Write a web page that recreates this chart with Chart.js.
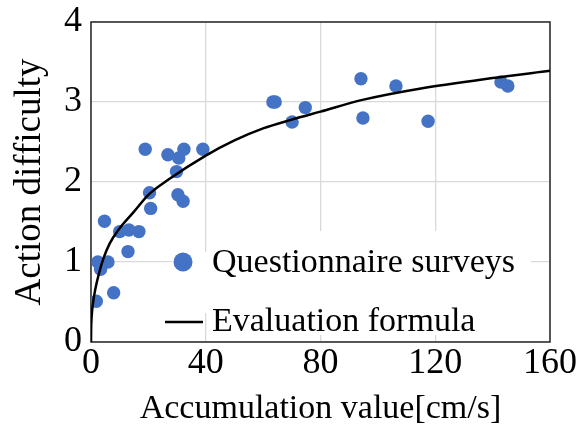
<!DOCTYPE html>
<html>
<head>
<meta charset="utf-8">
<script src="https://cdn.jsdelivr.net/npm/chart.js@4/dist/chart.umd.min.js"></script>
<style>
html,body{margin:0;padding:0;background:#fff;}
#wrap{width:576px;height:426px;position:relative;}
</style>
</head>
<body>
<div id="wrap"><canvas id="c" width="576" height="426"></canvas></div>
<script>
// Questionnaire survey results
const surveyX = [1.85, 7.9, 2.4, 5.9, 3.35, 4.7, 10.0, 13.2, 16.7, 12.9, 20.4, 20.8, 18.9, 26.8, 30.6, 32.4, 39.0, 29.8, 30.3, 32.1, 63.4, 64.2, 70.1, 74.7, 94.1, 94.8, 106.3, 117.5, 142.9, 145.3];
const surveyY = [0.51, 0.615, 1.0, 1.0, 0.91, 1.51, 1.38, 1.40, 1.38, 1.13, 1.865, 1.67, 2.41, 2.34, 2.30, 2.41, 2.41, 2.13, 1.84, 1.76, 3.0, 3.0, 2.75, 2.93, 3.29, 2.80, 3.20, 2.76, 3.25, 3.20];
// Evaluation formula curve
const curveX = [0, 0.05, 0.2, 0.6, 1.5, 2.8, 4.5, 6.5, 9.5, 15, 20, 27, 40, 50, 60, 70, 80, 95, 115, 140, 160];
const curveY = [0, 0.16, 0.3, 0.46, 0.66, 0.86, 1.06, 1.23, 1.40, 1.63, 1.84, 2.03, 2.33, 2.52, 2.67, 2.78, 2.88, 3.03, 3.17, 3.30, 3.39];
// Axis ticks
const xTicks = [0, 40, 80, 120, 160];
const yTicks = [0, 1, 2, 3, 4];
const seriesNames = ['Questionnaire surveys', 'Evaluation formula'];
const xTitle = 'Accumulation value[cm/s]';
const yTitle = 'Action difficulty';

const FONT = "'Liberation Serif', 'Times New Roman', serif";
const BLUE = '#4472C4';

const framePlugin = {
  id: 'frame',
  beforeDatasetsDraw(chart) {
    const {ctx, chartArea: a} = chart;
    ctx.save();
    ctx.strokeStyle = '#262626';
    ctx.lineWidth = 1.5;
    ctx.strokeRect(a.left, a.top, a.right - a.left, a.bottom - a.top);
    ctx.restore();
  }
};

const legendPlugin = {
  id: 'insideLegend',
  afterDatasetsDraw(chart) {
    const {ctx} = chart;
    const ds = chart.data.datasets;
    ctx.save();
    ctx.fillStyle = '#fff';
    ctx.fillRect(210, 231, 321, 104);
    ctx.fillRect(172, 252, 40, 61);
    ctx.font = '34px ' + FONT;
    ctx.textBaseline = 'middle';
    ctx.textAlign = 'left';
    // item 1: marker
    const scatter = ds.find(d => d.label === seriesNames[0]);
    ctx.fillStyle = scatter.backgroundColor;
    ctx.beginPath();
    ctx.arc(183, 262, 9.5, 0, Math.PI * 2);
    ctx.fill();
    ctx.fillStyle = '#000';
    ctx.fillText(scatter.label, 212, 263);
    // item 2: line
    const line = ds.find(d => d.label === seriesNames[1]);
    ctx.strokeStyle = line.borderColor;
    ctx.lineWidth = 2.5;
    ctx.beginPath();
    ctx.moveTo(165, 322);
    ctx.lineTo(203, 322);
    ctx.stroke();
    ctx.fillStyle = '#000';
    ctx.fillText(line.label, 212, 322);
    ctx.restore();
  }
};

new Chart(document.getElementById('c'), {
  type: 'scatter',
  data: {
    datasets: [
      {
        label: seriesNames[1],
        data: curveX.map((x, i) => ({x, y: curveY[i]})),
        showLine: true,
        borderColor: '#000',
        backgroundColor: '#000',
        borderWidth: 2.5,
        pointRadius: 0,
        cubicInterpolationMode: 'monotone',
        order: 0
      },
      {
        label: seriesNames[0],
        data: surveyX.map((x, i) => ({x, y: surveyY[i]})),
        showLine: false,
        backgroundColor: BLUE,
        borderColor: BLUE,
        pointRadius: 6.7,
        pointBorderWidth: 0,
        order: 1
      }
    ]
  },
  options: {
    responsive: false,
    animation: false,
    devicePixelRatio: 1,
    layout: {padding: {left: 0, right: 26, top: 22, bottom: 0}},
    plugins: {legend: {display: false}, tooltip: {enabled: false}},
    scales: {
      x: {
        type: 'linear',
        min: 0, max: 160,
        afterBuildTicks: s => { s.ticks = xTicks.map(v => ({value: v})); },
        ticks: {font: {family: FONT, size: 36}, color: '#000', padding: 0},
        grid: {color: '#d9d9d9', lineWidth: 1.3, drawTicks: false},
        border: {display: false},
        title: {display: true, text: xTitle, font: {family: FONT, size: 34, lineHeight: 1.0}, color: '#000', padding: {top: 0, bottom: 0}},
        afterFit: s => { s.height = 84; s.paddingLeft = 0; s.paddingRight = 0; }
      },
      y: {
        type: 'linear',
        min: 0, max: 4,
        afterBuildTicks: s => { s.ticks = yTicks.map(v => ({value: v})); },
        ticks: {font: {family: FONT, size: 36}, color: '#000', padding: 9},
        grid: {color: '#d9d9d9', lineWidth: 1.3, drawTicks: false},
        border: {display: false},
        title: {display: true, text: yTitle, font: {family: FONT, size: 37, lineHeight: 1.0}, color: '#000', padding: {top: 12, bottom: 0}},
        afterFit: s => { s.width = 91; s.paddingTop = 0; s.paddingBottom = 0; }
      }
    }
  },
  plugins: [framePlugin, legendPlugin]
});
</script>
</body>
</html>
